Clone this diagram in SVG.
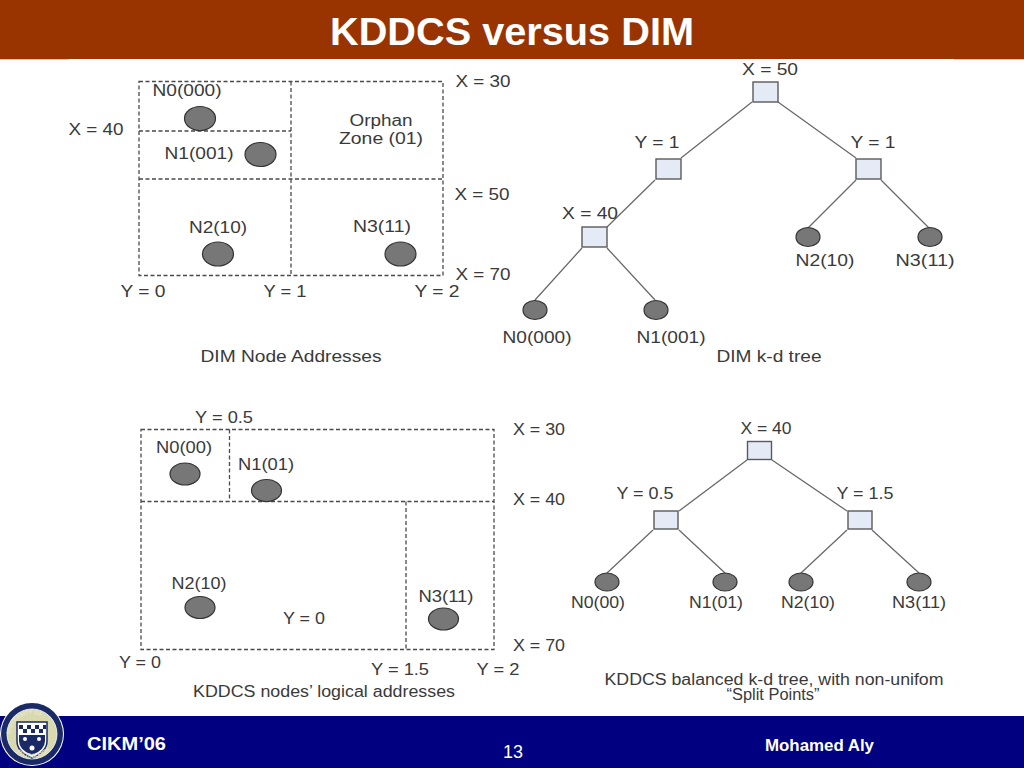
<svg xmlns="http://www.w3.org/2000/svg" width="1024" height="768" viewBox="0 0 1024 768">
<style>
text{font-family:"Liberation Sans",Arial,sans-serif;fill:#3a3a3a;font-size:16px;text-anchor:middle}
.zone{fill:none;stroke:#4a4a4a;stroke-width:1.3;stroke-dasharray:4 2.5}
.edge{stroke:#6a6a6a;stroke-width:1.3;fill:none}
.leaf{fill:#777;stroke:#333;stroke-width:1.2}
.split{fill:#e4eaf6;stroke:#5a5a5a;stroke-width:1.4}
.w{fill:#fff;font-weight:bold}
.sealtext{fill:#e8e8d0;font-size:5.500px;font-weight:bold;text-anchor:start}
</style>
<rect width="1024" height="768" fill="#fff"/>
<g id="header">
<rect width="1024" height="59" fill="#993300"/>
<path d="M0 59.500H69M954 59.500H1024" stroke="#ccc" stroke-width="1"/>
<text class="w" x="512" y="45" style="font-size:38px" textLength="364" lengthAdjust="spacingAndGlyphs">KDDCS versus DIM</text>
</g>
<g id="footer">
<rect y="716" width="1024" height="52" fill="#000080"/>
<text class="w" x="126.500" y="750" style="font-size:18px" textLength="79" lengthAdjust="spacingAndGlyphs">CIKM’06</text>
<text x="513" y="758" style="font-size:18px;fill:#fff">13</text>
<text class="w" x="819.500" y="751" style="font-size:16px" textLength="109" lengthAdjust="spacingAndGlyphs">Mohamed Aly</text>
</g>
<defs>
<path id="sealtop" d="M10 736A22 22 0 0 1 54 736"/>
<path id="sealbot" d="M12 746A23 23 0 0 0 52 746"/>
</defs>
<g id="seal">
<circle cx="32" cy="734" r="32" fill="#fff"/>
<circle cx="32" cy="734" r="31" fill="#1a2a66"/>
<circle cx="32" cy="734" r="25" fill="#d9d9b0" stroke="#fff" stroke-width="0.800"/>
<path d="M17 722H47V741Q47 752 32 758Q17 752 17 741Z" fill="#fff" stroke="#1a2a66" stroke-width="1.500"/>
<path d="M19 725h4v4h-4zM27 725h4v4h-4zM35 725h4v4h-4zM43 725h3v4h-3zM23 729h4v4h-4zM31 729h4v4h-4zM39 729h4v4h-4z" fill="#1a2a66"/>
<path d="M19 735H45V741Q45 750 32 755Q19 750 19 741Z" fill="#1a2a66"/>
<circle cx="25" cy="739" r="2" fill="#fff"/>
<circle cx="39" cy="739" r="2" fill="#fff"/>
<circle cx="32" cy="748" r="2.500" fill="#fff"/>
<text class="sealtext"><textPath href="#sealtop" startOffset="2">UNIVERSITY OF</textPath></text>
<text class="sealtext"><textPath href="#sealbot" startOffset="8">PITTSBURGH</textPath></text>
</g>
<g id="dim-zones">
<rect class="zone" x="139" y="81.500" width="304" height="194"/>
<path class="zone" d="M291 81.500V275.500M139 131H291M139 179H443"/>
</g>
<g id="dim-zone-labels">
<text x="187" y="96" textLength="69" lengthAdjust="spacingAndGlyphs">N0(000)</text>
<text x="199" y="159" textLength="69" lengthAdjust="spacingAndGlyphs">N1(001)</text>
<text x="218" y="233" textLength="58" lengthAdjust="spacingAndGlyphs">N2(10)</text>
<text x="382" y="232" textLength="58" lengthAdjust="spacingAndGlyphs">N3(11)</text>
<text x="381" y="126" textLength="63" lengthAdjust="spacingAndGlyphs">Orphan</text>
<text x="381" y="144" textLength="84" lengthAdjust="spacingAndGlyphs">Zone (01)</text>
<text x="96" y="135" textLength="55" lengthAdjust="spacingAndGlyphs">X = 40</text>
<text x="483" y="87" textLength="55" lengthAdjust="spacingAndGlyphs">X = 30</text>
<text x="482" y="200" textLength="55" lengthAdjust="spacingAndGlyphs">X = 50</text>
<text x="483" y="280" textLength="55" lengthAdjust="spacingAndGlyphs">X = 70</text>
<text x="143" y="297" textLength="45" lengthAdjust="spacingAndGlyphs">Y = 0</text>
<text x="285" y="297" textLength="43" lengthAdjust="spacingAndGlyphs">Y = 1</text>
<text x="437" y="297" textLength="45" lengthAdjust="spacingAndGlyphs">Y = 2</text>
<text x="291" y="362" textLength="181" lengthAdjust="spacingAndGlyphs">DIM Node Addresses</text>
</g>
<g id="dim-zone-nodes">
<ellipse class="leaf" cx="200" cy="118.500" rx="15.500" ry="12"/>
<ellipse class="leaf" cx="260.500" cy="154.500" rx="15.500" ry="12"/>
<ellipse class="leaf" cx="218" cy="254" rx="15.500" ry="12"/>
<ellipse class="leaf" cx="400.500" cy="254" rx="15.500" ry="12"/>
</g>
<g id="connectors">
<path class="edge" d="M752 102L681 158M778 102L856 158M655 180L607 227M856 180L808 228M881 180L929 228M582 248L535 300M607 248L655 300"/>
<path class="edge" d="M747 460L679 511M772 460L847 511M653 530L607 573M679 530L725 573M847 530L801 573M872 530L919 573"/>
</g>
<g id="dim-tree">
<rect class="split" x="753" y="82" width="25" height="20"/>
<rect class="split" x="656" y="159" width="25" height="20"/>
<rect class="split" x="856" y="159" width="25" height="20"/>
<rect class="split" x="582" y="227" width="25" height="20"/>
<ellipse class="leaf" cx="808" cy="237" rx="12" ry="9.500"/>
<ellipse class="leaf" cx="930" cy="237" rx="12" ry="9.500"/>
<ellipse class="leaf" cx="535" cy="310" rx="12" ry="9.500"/>
<ellipse class="leaf" cx="656" cy="310" rx="12" ry="9.500"/>
<text x="770" y="75" textLength="56" lengthAdjust="spacingAndGlyphs">X = 50</text>
<text x="657" y="148" textLength="45" lengthAdjust="spacingAndGlyphs">Y = 1</text>
<text x="873" y="148" textLength="45" lengthAdjust="spacingAndGlyphs">Y = 1</text>
<text x="590" y="219" textLength="56" lengthAdjust="spacingAndGlyphs">X = 40</text>
<text x="825" y="266" textLength="59" lengthAdjust="spacingAndGlyphs">N2(10)</text>
<text x="925" y="266" textLength="59" lengthAdjust="spacingAndGlyphs">N3(11)</text>
<text x="537" y="343" textLength="69" lengthAdjust="spacingAndGlyphs">N0(000)</text>
<text x="671" y="343" textLength="69" lengthAdjust="spacingAndGlyphs">N1(001)</text>
<text x="769" y="362" textLength="105" lengthAdjust="spacingAndGlyphs">DIM k-d tree</text>
</g>
<g id="kddcs-zones">
<rect class="zone" x="141" y="429.500" width="353" height="220"/>
<path class="zone" d="M229.500 429.500V501.500M141 501.500H494M406 501.500V649.500"/>
</g>
<g id="kddcs-zone-nodes">
<ellipse class="leaf" cx="185" cy="474" rx="15" ry="11"/>
<ellipse class="leaf" cx="266.500" cy="490.500" rx="15" ry="11"/>
<ellipse class="leaf" cx="200" cy="607.500" rx="15" ry="11"/>
<ellipse class="leaf" cx="443.500" cy="619" rx="15" ry="11"/>
</g>
<g id="kddcs-zone-labels">
<text x="224" y="423" textLength="58" lengthAdjust="spacingAndGlyphs">Y = 0.5</text>
<text x="184" y="453" textLength="56" lengthAdjust="spacingAndGlyphs">N0(00)</text>
<text x="266" y="470" textLength="56" lengthAdjust="spacingAndGlyphs">N1(01)</text>
<text x="199" y="589" textLength="55" lengthAdjust="spacingAndGlyphs">N2(10)</text>
<text x="446" y="602" textLength="55" lengthAdjust="spacingAndGlyphs">N3(11)</text>
<text x="304" y="624" textLength="42" lengthAdjust="spacingAndGlyphs">Y = 0</text>
<text x="539" y="435" textLength="52" lengthAdjust="spacingAndGlyphs">X = 30</text>
<text x="539" y="505" textLength="52" lengthAdjust="spacingAndGlyphs">X = 40</text>
<text x="539" y="651" textLength="52" lengthAdjust="spacingAndGlyphs">X = 70</text>
<text x="140" y="668" textLength="42" lengthAdjust="spacingAndGlyphs">Y = 0</text>
<text x="400" y="675" textLength="58" lengthAdjust="spacingAndGlyphs">Y = 1.5</text>
<text x="498" y="675" textLength="43" lengthAdjust="spacingAndGlyphs">Y = 2</text>
<text x="324" y="697" textLength="262" lengthAdjust="spacingAndGlyphs">KDDCS nodes’ logical addresses</text>
</g>
<g id="kddcs-tree">
<rect class="split" x="747.500" y="441.500" width="24" height="18"/>
<rect class="split" x="654" y="511" width="24" height="18"/>
<rect class="split" x="848" y="511" width="24" height="18"/>
<ellipse class="leaf" cx="607" cy="582" rx="12" ry="9"/>
<ellipse class="leaf" cx="725" cy="582" rx="12" ry="9"/>
<ellipse class="leaf" cx="801" cy="582" rx="12" ry="9"/>
<ellipse class="leaf" cx="919" cy="582" rx="12" ry="9"/>
<text x="766" y="434" textLength="51" lengthAdjust="spacingAndGlyphs">X = 40</text>
<text x="645" y="499" textLength="57" lengthAdjust="spacingAndGlyphs">Y = 0.5</text>
<text x="865" y="499" textLength="57" lengthAdjust="spacingAndGlyphs">Y = 1.5</text>
<text x="598" y="608" textLength="54" lengthAdjust="spacingAndGlyphs">N0(00)</text>
<text x="716" y="608" textLength="54" lengthAdjust="spacingAndGlyphs">N1(01)</text>
<text x="808" y="608" textLength="54" lengthAdjust="spacingAndGlyphs">N2(10)</text>
<text x="919" y="608" textLength="54" lengthAdjust="spacingAndGlyphs">N3(11)</text>
<text x="774" y="685" textLength="339" lengthAdjust="spacingAndGlyphs">KDDCS balanced k-d tree, with non-unifom</text>
<text x="773" y="700" textLength="93" lengthAdjust="spacingAndGlyphs">“Split Points”</text>
</g>
</svg>
